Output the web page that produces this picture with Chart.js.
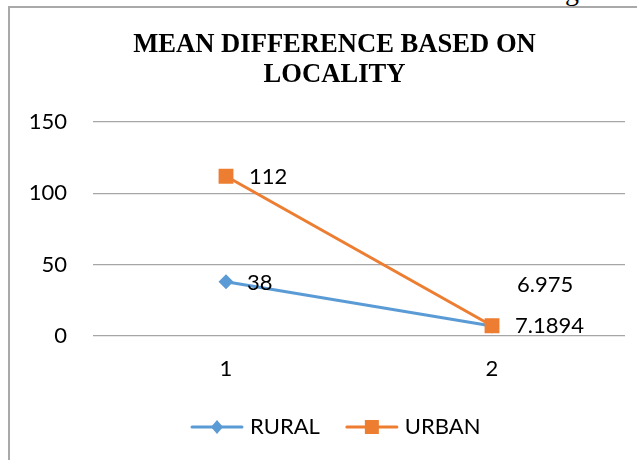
<!DOCTYPE html>
<html>
<head>
<meta charset="utf-8">
<script src="https://cdn.jsdelivr.net/npm/chart.js@4.4.1/dist/chart.umd.min.js"></script>
<style>
  html, body { margin: 0; padding: 0; background: #fff; }
  body { width: 637px; height: 460px; position: relative; overflow: hidden; }
  #frame { position: absolute; left: 8px; top: 6px; width: 700px; height: 500px;
           border-left: 2px solid #a9a9a9; border-top: 2px solid #a9a9a9; }
  #cut { position: absolute; left: 565px; top: -25px; font: 28px "Liberation Serif", serif; color: #000; }
  #chart { position: absolute; left: 0; top: 0; }
</style>
</head>
<body>
<div id="frame"></div>
<span id="cut">g</span>
<canvas id="chart" width="637" height="460"></canvas>
<script>
// chart data
const categories = ['1', '2'];
const rural = [38, 6.975];
const urban = [112, 7.1894];
const seriesNames = ['RURAL', 'URBAN'];
const yMin = 0, yMax = 150, yStep = 50;
const titleLines = ['MEAN DIFFERENCE BASED ON', 'LOCALITY'];

const blue = '#5B9BD5';
const orange = '#ED7D31';
const textFont = '22px Lato';

// where each value label sits relative to its point
const labelOffsets = [[[21, 1], [25, -41]], [[23, 1], [23, 0]]];

// legend icon: line with the marker in the middle
function drawLegendIcon(ctx, x, y, color, shape) {
    ctx.strokeStyle = color; ctx.fillStyle = color;
    ctx.lineWidth = 3; ctx.lineCap = 'round';
    ctx.beginPath(); ctx.moveTo(x + 2, y); ctx.lineTo(x + 52, y); ctx.stroke();
    ctx.beginPath();
    if (shape === 'rectRot') {
        ctx.moveTo(x + 27, y - 7); ctx.lineTo(x + 33, y); ctx.lineTo(x + 27, y + 7); ctx.lineTo(x + 21, y);
    } else {
        ctx.rect(x + 20, y - 7, 14, 14);
    }
    ctx.closePath(); ctx.fill();
}

// title sits a bit right of the plot centre, like the original
const chartTitle = {
    id: 'chartTitle',
    afterDraw(chart) {
        const ctx = chart.ctx;
        ctx.save();
        ctx.font = 'bold 26.6px "Liberation Serif"';
        ctx.fillStyle = '#000';
        ctx.textAlign = 'center';
        ctx.textBaseline = 'alphabetic';
        titleLines.forEach((line, i) => ctx.fillText(line, 334.5, 52 + i * 30));
        ctx.restore();
    }
};

// legend row under the axis
const lineLegend = {
    id: 'lineLegend',
    afterDraw(chart) {
        const ctx = chart.ctx;
        ctx.save();
        ctx.font = textFont;
        ctx.textAlign = 'left';
        ctx.textBaseline = 'middle';
        let x = 190;
        const y = 427;
        chart.data.datasets.forEach(ds => {
            drawLegendIcon(ctx, x, y, ds.borderColor, ds.pointStyle);
            ctx.fillStyle = '#000';
            ctx.fillText(ds.label, x + 60, y);
            x += 60 + ctx.measureText(ds.label).width + 25;
        });
        ctx.restore();
    }
};

const pointLabels = {
    id: 'pointLabels',
    afterDatasetsDraw(chart) {
        const ctx = chart.ctx;
        ctx.save();
        ctx.font = textFont;
        ctx.fillStyle = '#000';
        ctx.textAlign = 'left';
        ctx.textBaseline = 'middle';
        chart.data.datasets.forEach((ds, i) => {
            chart.getDatasetMeta(i).data.forEach((pt, j) => {
                const [dx, dy] = labelOffsets[i][j];
                ctx.fillText(String(ds.data[j]), pt.x + dx, pt.y + dy);
            });
        });
        ctx.restore();
    }
};

Promise.all([
    document.fonts.load('22px Lato'),
    document.fonts.load('bold 27px "Liberation Serif"')
]).catch(() => {}).then(() => {
    new Chart(document.getElementById('chart'), {
        type: 'line',
        data: {
            labels: categories,
            datasets: [{
                label: seriesNames[0],
                data: rural,
                borderColor: blue,
                backgroundColor: blue,
                borderWidth: 3,
                pointStyle: 'rectRot',
                pointRadius: 7.5,
                pointBorderWidth: 0,
                order: 1
            }, {
                label: seriesNames[1],
                data: urban,
                borderColor: orange,
                backgroundColor: orange,
                borderWidth: 3,
                pointStyle: 'rect',
                pointRadius: 10.5,
                pointBorderWidth: 0,
                order: 0
            }]
        },
        options: {
            responsive: false,
            animation: false,
            layout: { padding: { left: 20, right: 12, top: 122, bottom: 84 } },
            plugins: {
                tooltip: { enabled: false },
                title: { display: false },
                legend: { display: false }
            },
            scales: {
                x: {
                    offset: true,
                    grid: { display: false },
                    border: { display: false },
                    ticks: { color: '#000', font: { family: 'Lato', size: 22 }, padding: 12 },
                    afterFit(axis) { axis.height = 40; }
                },
                y: {
                    min: yMin,
                    max: yMax,
                    afterFit(axis) { axis.width = 73; },
                    ticks: { stepSize: yStep, color: '#000', font: { family: 'Lato', size: 22 }, padding: 26 },
                    grid: { color: '#a6a6a6', lineWidth: 1.2, drawTicks: false },
                    border: { display: false }
                }
            }
        },
        plugins: [pointLabels, chartTitle, lineLegend]
    });
});
</script>
</body>
</html>
